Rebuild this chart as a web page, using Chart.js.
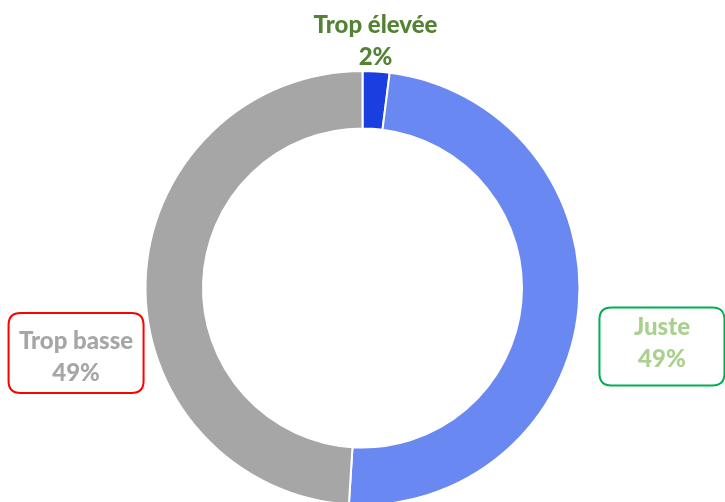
<!DOCTYPE html>
<html>
<head>
<meta charset="utf-8">
<script src="https://cdn.jsdelivr.net/npm/chart.js@4/dist/chart.umd.min.js"></script>
<style>
  html, body { margin: 0; padding: 0; background: #fff; overflow: hidden; }
  #wrap { width: 725px; height: 510px; position: relative; }
</style>
</head>
<body>
<div id="wrap"><canvas id="donut"></canvas></div>
<script>
var categories = ['Trop élevée', 'Juste', 'Trop basse'];
var shares = [2, 49, 49];
var sliceColours = ['#1a3fe0', '#6a88f1', '#a6a6a6'];
var labelColours = ['#548235', '#a9d18e', '#a6a6a6'];
var boxColours = [null, '#00b050', '#ff0000'];

// where each label sits, relative to the doughnut centre (in radii)
var labelSpots = [
    { dx: 0.06, dy: -1.135, w: 0, h: 0, textDy: 0 },
    { dx: 1.38, dy: 0.27, w: 125, h: 78, textDy: -3 },
    { dx: -1.32, dy: 0.30, w: 135, h: 80, textDy: 4 }
];

function roundBox(ctx, x, y, w, h, r) {
    ctx.beginPath();
    ctx.moveTo(x + r, y);
    ctx.lineTo(x + w - r, y);
    ctx.quadraticCurveTo(x + w, y, x + w, y + r);
    ctx.lineTo(x + w, y + h - r);
    ctx.quadraticCurveTo(x + w, y + h, x + w - r, y + h);
    ctx.lineTo(x + r, y + h);
    ctx.quadraticCurveTo(x, y + h, x, y + h - r);
    ctx.lineTo(x, y + r);
    ctx.quadraticCurveTo(x, y, x + r, y);
    ctx.closePath();
}

var calloutPlugin = {
    id: 'callouts',
    afterDraw: function(chart) {
        var ctx = chart.ctx;
        var arc = chart.getDatasetMeta(0).data[0];
        var cx = arc.x, cy = arc.y, r = arc.outerRadius;
        ctx.save();
        for (var i = 0; i < categories.length; i++) {
            var spot = labelSpots[i];
            var x = cx + spot.dx * r;
            var y = cy + spot.dy * r;
            if (boxColours[i]) {
                ctx.strokeStyle = boxColours[i];
                ctx.lineWidth = 2;
                roundBox(ctx, x - spot.w / 2, y - spot.h / 2, spot.w, spot.h, 12);
                ctx.stroke();
            }
            ctx.fillStyle = labelColours[i];
            ctx.font = '900 24px Lato';
            ctx.textAlign = 'center';
            ctx.textBaseline = 'middle';
            ctx.fillText(categories[i], x, y + spot.textDy - 16);
            ctx.fillText(shares[i] + '%', x, y + spot.textDy + 16);
        }
        ctx.restore();
    }
};

var ctx = document.getElementById('donut');
var myChart = new Chart(ctx, {
    type: 'doughnut',
    data: {
        labels: categories,
        datasets: [{
            data: shares,
            backgroundColor: sliceColours,
            borderColor: '#ffffff',
            borderWidth: 2
        }]
    },
    options: {
        responsive: true,
        maintainAspectRatio: false,
        animation: false,
        cutout: '73.5%',
        layout: { padding: { top: 70, bottom: 4 } },
        plugins: {
            legend: { display: false },
            tooltip: { enabled: false }
        }
    },
    plugins: [calloutPlugin]
});
</script>
</body>
</html>
